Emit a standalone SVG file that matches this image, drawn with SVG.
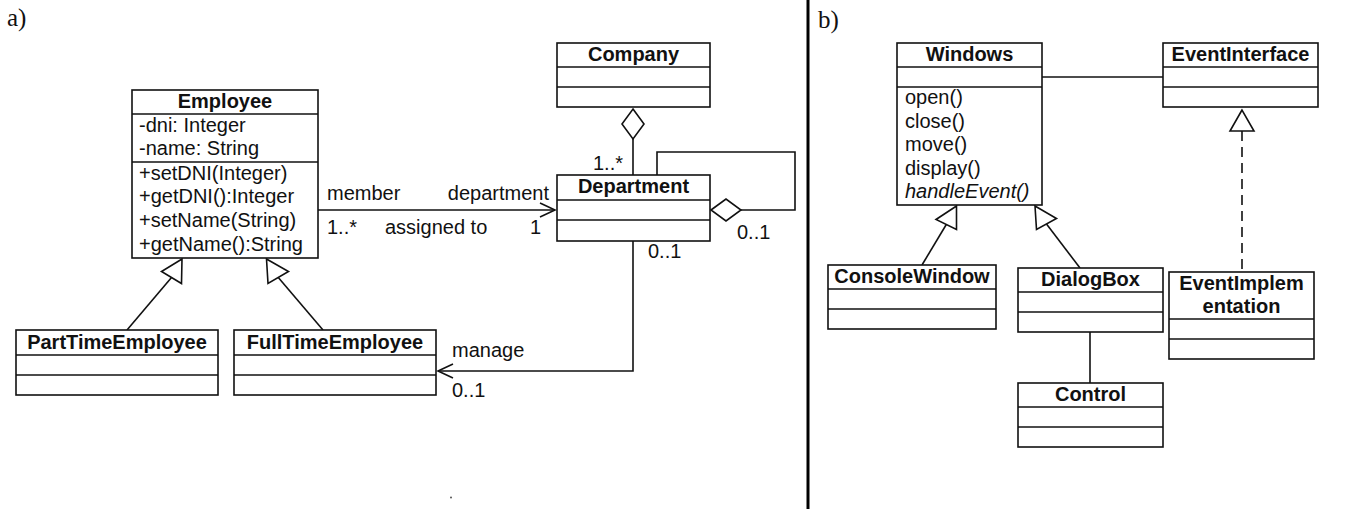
<svg xmlns="http://www.w3.org/2000/svg" width="1345" height="509" viewBox="0 0 1345 509">
<style>
.box{fill:#fff;stroke:#111;stroke-width:1.6}
.sep{stroke:#111;stroke-width:1.6}
.t{font-family:"Liberation Sans",Arial,sans-serif;font-size:20px;fill:#111}
.h{font-family:"Liberation Sans",Arial,sans-serif;font-size:20px;font-weight:bold;fill:#111;text-anchor:middle}
.lbl{font-family:"Liberation Serif","Times New Roman",serif;font-size:25px;fill:#111}
.c{fill:none;stroke:#111;stroke-width:1.6}
.hol{fill:#fff;stroke:#111;stroke-width:1.6}
</style>
<rect width="1345" height="509" fill="#fff"/>
<text class="lbl" x="7" y="26">a)</text>
<text class="lbl" x="818" y="28">b)</text>
<rect x="806.5" y="0" width="3" height="509" fill="#000"/>
<circle cx="451" cy="497.5" r="1" fill="#555"/>

<g id="connectors">
  <line class="c" x1="318" y1="210" x2="555" y2="210"/>
  <polyline class="c" points="540,203 555,210 540,217"/>
  <line class="c" x1="633" y1="139" x2="633" y2="175"/>
  <polygon class="hol" points="633,109 644,124 633,139 622,124"/>
  <polyline class="c" points="657,175 657,152 795,152 795,210 741,210"/>
  <polygon class="hol" points="711,210 726,199 741,210 726,221"/>
  <polyline class="c" points="633,241 633,371 438,371"/>
  <polyline class="c" points="453,364 438,371 453,378"/>
  <line class="c" x1="171.5" y1="277.5" x2="127" y2="330"/>
  <polygon class="hol" points="182,259 161.5,271.5 181.5,283.5"/>
  <line class="c" x1="278.3" y1="277.5" x2="323" y2="330"/>
  <polygon class="hol" points="266.5,259 268,283.5 288.5,271.5"/>
  <line class="c" x1="1042" y1="77" x2="1163" y2="77"/>
  <line class="c" x1="946.3" y1="224.5" x2="922" y2="265"/>
  <polygon class="hol" points="956.5,206 936,219.5 956.5,229.5"/>
  <line class="c" x1="1046.5" y1="224" x2="1080" y2="268"/>
  <polygon class="hol" points="1035,206 1036.5,229.5 1056.5,218.5"/>
  <line class="c" x1="1242" y1="131" x2="1242" y2="272" stroke-dasharray="10 6"/>
  <polygon class="hol" points="1242,110 1230,131 1254,131"/>
  <line class="c" x1="1090" y1="332" x2="1090" y2="383"/>
  <text class="t" x="327" y="200">member</text>
  <text class="t" x="549" y="200" text-anchor="end">department</text>
  <text class="t" x="327" y="234">1..*</text>
  <text class="t" x="385" y="234">assigned to</text>
  <text class="t" x="530" y="234">1</text>
  <text class="t" x="593" y="170">1..*</text>
  <text class="t" x="737" y="239">0..1</text>
  <text class="t" x="648" y="258">0..1</text>
  <text class="t" x="452" y="357">manage</text>
  <text class="t" x="452" y="397">0..1</text>
</g>

<g id="Employee">
  <rect class="box" x="132" y="90" width="186" height="168"/>
  <line class="sep" x1="132" y1="114" x2="318" y2="114"/>
  <line class="sep" x1="132" y1="162" x2="318" y2="162"/>
  <text class="h" x="225" y="108">Employee</text>
  <text class="t" x="139" y="132">-dni: Integer</text>
  <text class="t" x="139" y="155">-name: String</text>
  <text class="t" x="139" y="180">+setDNI(Integer)</text>
  <text class="t" x="139" y="203">+getDNI():Integer</text>
  <text class="t" x="139" y="227">+setName(String)</text>
  <text class="t" x="139" y="250.5">+getName():String</text>
</g>
<g id="Company">
  <rect class="box" x="557" y="43" width="153" height="64"/>
  <line class="sep" x1="557" y1="67" x2="710" y2="67"/>
  <line class="sep" x1="557" y1="87" x2="710" y2="87"/>
  <text class="h" x="633.5" y="61">Company</text>
</g>
<g id="Department">
  <rect class="box" x="557" y="175" width="153" height="66"/>
  <line class="sep" x1="557" y1="200" x2="710" y2="200"/>
  <line class="sep" x1="557" y1="220" x2="710" y2="220"/>
  <text class="h" x="633.5" y="193">Department</text>
</g>
<g id="PartTimeEmployee">
  <rect class="box" x="16" y="330" width="202" height="65"/>
  <line class="sep" x1="16" y1="355" x2="218" y2="355"/>
  <line class="sep" x1="16" y1="375" x2="218" y2="375"/>
  <text class="h" x="117" y="349">PartTimeEmployee</text>
</g>
<g id="FullTimeEmployee">
  <rect class="box" x="234" y="330" width="202" height="65"/>
  <line class="sep" x1="234" y1="355" x2="436" y2="355"/>
  <line class="sep" x1="234" y1="375" x2="436" y2="375"/>
  <text class="h" x="335" y="349">FullTimeEmployee</text>
</g>
<g id="Windows">
  <rect class="box" x="897" y="43" width="145" height="162"/>
  <line class="sep" x1="897" y1="67" x2="1042" y2="67"/>
  <line class="sep" x1="897" y1="87" x2="1042" y2="87"/>
  <text class="h" x="969.5" y="61">Windows</text>
  <text class="t" x="905" y="104">open()</text>
  <text class="t" x="905" y="127.5">close()</text>
  <text class="t" x="905" y="151">move()</text>
  <text class="t" x="905" y="174.5">display()</text>
  <text class="t" x="905" y="198" font-style="italic">handleEvent()</text>
</g>
<g id="EventInterface">
  <rect class="box" x="1163" y="43" width="155" height="64"/>
  <line class="sep" x1="1163" y1="67" x2="1318" y2="67"/>
  <line class="sep" x1="1163" y1="87" x2="1318" y2="87"/>
  <text class="h" x="1240.5" y="61">EventInterface</text>
</g>
<g id="ConsoleWindow">
  <rect class="box" x="828" y="265" width="168" height="64"/>
  <line class="sep" x1="828" y1="289" x2="996" y2="289"/>
  <line class="sep" x1="828" y1="309" x2="996" y2="309"/>
  <text class="h" x="912" y="283">ConsoleWindow</text>
</g>
<g id="DialogBox">
  <rect class="box" x="1018" y="268" width="145" height="64"/>
  <line class="sep" x1="1018" y1="292" x2="1163" y2="292"/>
  <line class="sep" x1="1018" y1="312" x2="1163" y2="312"/>
  <text class="h" x="1090.5" y="286">DialogBox</text>
</g>
<g id="Control">
  <rect class="box" x="1018" y="383" width="145" height="64"/>
  <line class="sep" x1="1018" y1="407" x2="1163" y2="407"/>
  <line class="sep" x1="1018" y1="427" x2="1163" y2="427"/>
  <text class="h" x="1090.5" y="401">Control</text>
</g>
<g id="EventImplementation">
  <rect class="box" x="1169" y="272" width="145" height="87"/>
  <line class="sep" x1="1169" y1="319" x2="1314" y2="319"/>
  <line class="sep" x1="1169" y1="339" x2="1314" y2="339"/>
  <text class="h" x="1241.5" y="290">EventImplem</text>
  <text class="h" x="1241.5" y="313">entation</text>
</g>
</svg>
